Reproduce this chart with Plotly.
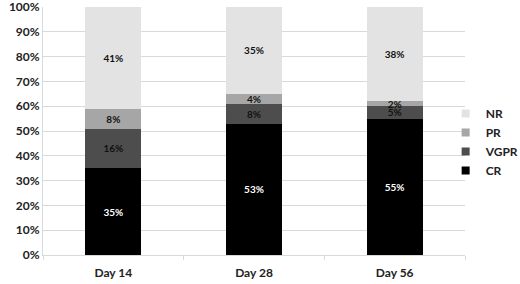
import plotly.graph_objects as go

categories = ["Day 14", "Day 28", "Day 56"]
series_names = ["CR", "VGPR", "PR", "NR"]
cr = [35, 53, 55]
vgpr = [16, 8, 5]
pr = [8, 4, 2]
nr = [41, 35, 38]
values = [cr, vgpr, pr, nr]
colors = ["#000000", "#4d4d4d", "#a6a6a6", "#e3e3e3"]
text_colors = ["#ffffff", "#111111", "#111111", "#111111"]
y_ticks = list(range(0, 101, 10))
y_tick_labels = [f"{v}%" for v in y_ticks]

FONT = "Lato"

fig = go.Figure()
for name, vals, col, tcol in zip(series_names, values, colors, text_colors):
    fig.add_trace(go.Bar(
        x=categories, y=vals, name=name,
        marker=dict(color=col, line=dict(width=0)),
        width=0.4,
        text=[f"{v}%" for v in vals],
        texttemplate="%{text}",
        textposition="inside",
        insidetextanchor="middle",
        textangle=0,
        constraintext="none",
        textfont=dict(family=FONT, size=10, color=tcol, weight="bold"),
        hoverinfo="skip",
        showlegend=False,
    ))

# legend entries with small square swatches (as in the reference)
for name, col in zip(series_names, colors):
    fig.add_trace(go.Scatter(
        x=[None], y=[None], mode="markers", name=name,
        marker=dict(symbol="square", size=8, color=col, line=dict(width=0)),
        hoverinfo="skip",
    ))

fig.update_layout(
    barmode="stack",
    width=520, height=284,
    margin=dict(l=43, r=55, t=7, b=29, autoexpand=False),
    paper_bgcolor="white", plot_bgcolor="white",
    font=dict(family=FONT, color="#222222"),
    legend=dict(
        traceorder="reversed",
        xref="container", yref="container",
        x=0.857, xanchor="left", y=0.50, yanchor="middle",
        font=dict(family=FONT, size=12, color="#222222", weight="bold"),
        bgcolor="rgba(0,0,0,0)",
        itemwidth=30,
        tracegroupgap=0,
    ),
    showlegend=True,
)
fig.update_yaxes(
    range=[0, 100], tickvals=y_ticks, ticktext=y_tick_labels,
    showgrid=True, gridcolor="#d9d9d9", gridwidth=1,
    showline=True, linecolor="#d9d9d9", linewidth=1,
    zeroline=False, automargin=False,
    ticklabeloverflow="allow",
    tickfont=dict(family=FONT, size=12, color="#222222", weight="bold"),
    ticks="", fixedrange=True,
)
fig.update_xaxes(
    showline=True, linecolor="#d9d9d9", linewidth=1,
    ticks="outside", tickson="boundaries", tickcolor="#d9d9d9", ticklen=4,
    tickfont=dict(family=FONT, size=12, color="#222222", weight="bold"),
    ticklabelstandoff=7,
    showgrid=False, automargin=False, fixedrange=True,
)

fig.write_html(
    "out.html",
    config={"displayModeBar": False},
    post_script="document.body.style.margin='0';document.body.style.padding='0';",
)
